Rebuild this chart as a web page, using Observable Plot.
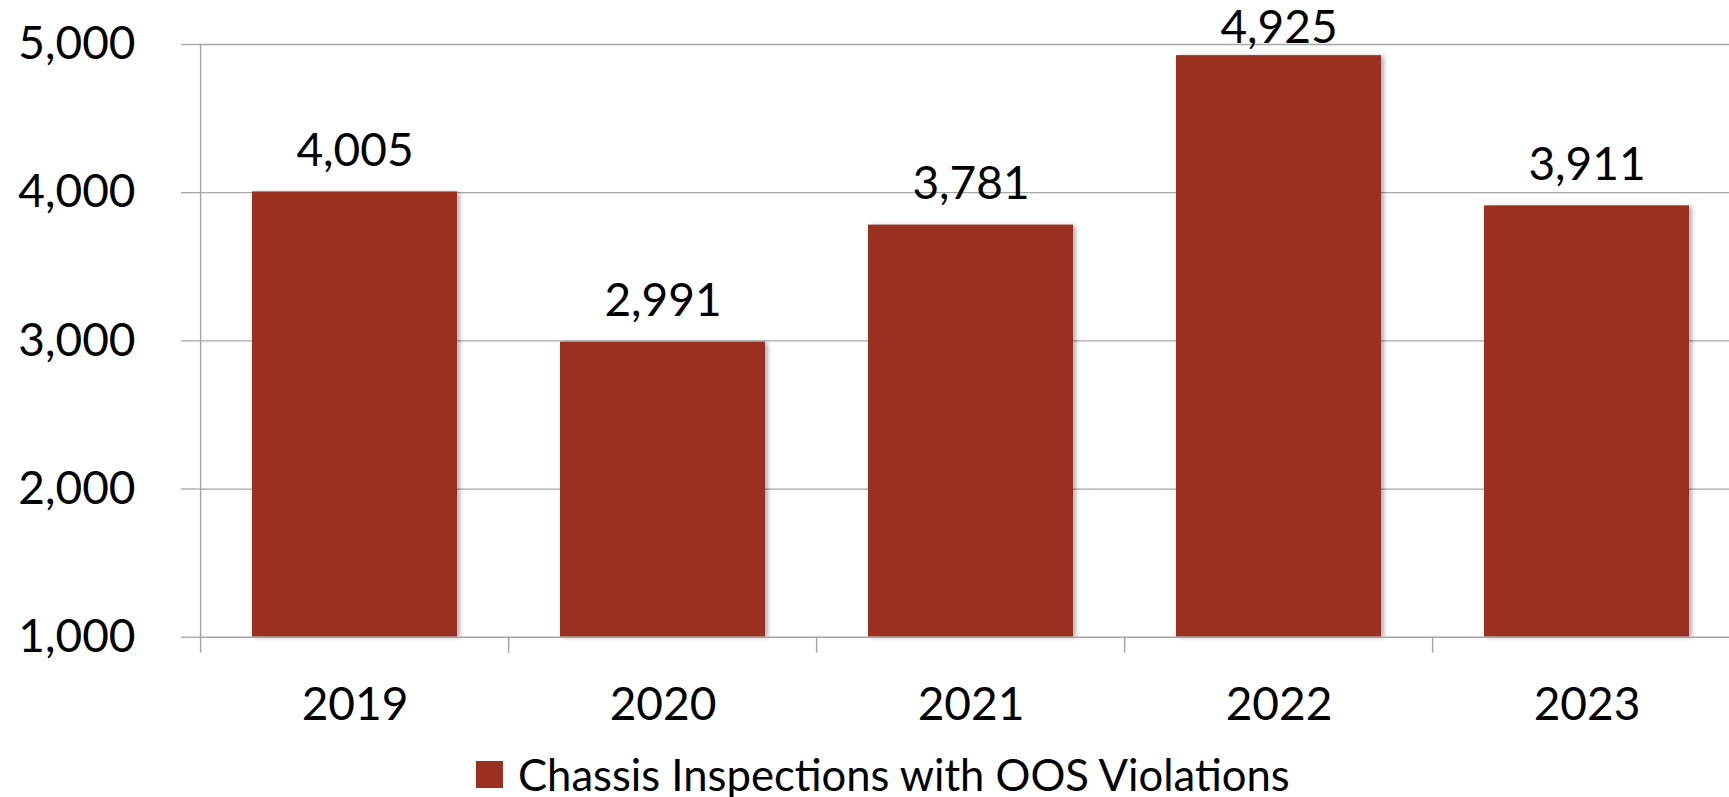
<!DOCTYPE html>
<html><head><meta charset="utf-8">
<script src="https://cdn.jsdelivr.net/npm/d3@7"></script>
<script src="https://cdn.jsdelivr.net/npm/@observablehq/plot@0.6"></script>
<style>
html,body{margin:0;padding:0;background:#fff;overflow:hidden;width:1729px;height:797px;}
#chart{position:absolute;left:0;top:0;}
.bars rect{filter:drop-shadow(3px 1px 2px rgba(0,0,0,0.3));}
.legend{position:absolute;left:476px;top:754px;height:40px;display:flex;align-items:center;font-family:Lato,sans-serif;font-size:43.6px;line-height:40px;color:#000;white-space:nowrap;}
.swatch{width:27px;height:27px;background:#9a3020;margin-right:15px;flex:none;}
</style></head>
<body><div id="chart"></div>
<div class="legend" id="legend"><div class="swatch"></div><span id="legendText"></span></div>
<script>
const years = ["2019", "2020", "2021", "2022", "2023"];
const values = [4005, 2991, 3781, 4925, 3911];
const yTicks = [1000, 2000, 3000, 4000, 5000];
const seriesName = "Chassis Inspections with OOS Violations";

const data = years.map((year, i) => ({year, value: values[i]}));
const W = 1729, H = 745;
const xRange = [198, 1741.75];
const step = (xRange[1] - xRange[0]) / years.length;
const gray = "#a6a6a6";
const barColor = "#9a3020";
const fmt = d3.format(",");
// labels near the top of the frame are nudged down so they stay inside the chart
const nearTop = d => d.value > 4700;

document.getElementById("legendText").textContent = seriesName;

const chart = Plot.plot({
  width: W, height: H,
  marginLeft: 198, marginRight: 0, marginTop: 44, marginBottom: H - 636.7,
  style: {fontFamily: "Lato, sans-serif", fontSize: "46px", background: "#fff", overflow: "visible"},
  x: {domain: years, range: xRange, paddingInner: 0.336, paddingOuter: 0.168, axis: null, label: null},
  y: {domain: [1000, 5000], axis: null, label: null},
  marks: [
    Plot.ruleY(yTicks.slice(1), {stroke: gray, strokeWidth: 1.3}),
    Plot.barY(data, {x: "year", y1: 1000, y2: "value", fill: barColor, className: "bars"}),
    Plot.ruleY([yTicks[0]], {stroke: gray, strokeWidth: 1.5}),
    Plot.ruleX([years[0]], {x: d => d, dx: -step / 2, y1: 5000, y2: 1000, insetBottom: -16, stroke: gray, strokeWidth: 1.5}),
    Plot.ruleX(years.slice(1), {x: d => d, dx: -step / 2, y1: 1000, y2: 1000, insetBottom: -16, stroke: gray, strokeWidth: 1.5}),
    Plot.axisY(yTicks, {anchor: "left", tickSize: 17, tickPadding: 46, stroke: gray, strokeWidth: 1.3, fill: "#000", tickFormat: fmt, label: null}),
    Plot.axisX({anchor: "bottom", tickSize: 0, tickPadding: 50, fill: "#000", label: null}),
    Plot.text(data.filter(d => !nearTop(d)), {x: "year", y: "value", text: d => fmt(d.value), dy: -26, lineAnchor: "bottom", fill: "#000"}),
    Plot.text(data.filter(nearTop), {x: "year", y: "value", text: d => fmt(d.value), dy: -13, lineAnchor: "bottom", fill: "#000"})
  ]
});
document.getElementById("chart").appendChild(chart);
</script>
</body></html>
